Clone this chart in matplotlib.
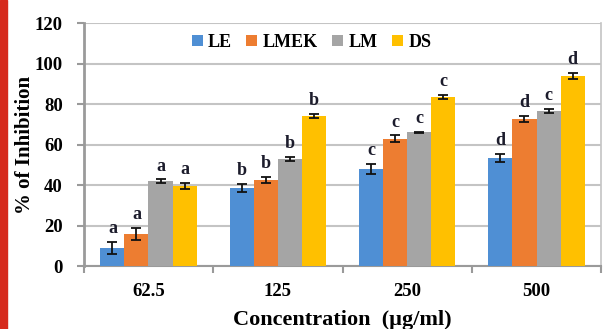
import numpy as np
import matplotlib
matplotlib.use("Agg")
import matplotlib.pyplot as plt
from matplotlib.patches import Rectangle

plt.rcParams["font.family"] = ["Liberation Serif", "DejaVu Serif"]
plt.rcParams["font.weight"] = "bold"

concentrations = ["62.5", "125", "250", "500"]
series = ["LE", "LMEK", "LM", "DS"]
colors = ["#4f8fd4", "#ed7d31", "#a5a5a5", "#ffc000"]

le = [9, 38.5, 48, 53.5]
lmek = [16, 42.5, 63, 72.7]
lm = [42, 53, 66, 76.8]
ds = [39.5, 74, 83.5, 94]

le_err = [3, 2, 2.5, 2]
lmek_err = [3, 1.5, 1.5, 1.5]
lm_err = [0.8, 1, 0.4, 1]
ds_err = [1.5, 1, 1, 1.5]

le_sig = ["a", "b", "c", "d"]
lmek_sig = ["a", "b", "c", "d"]
lm_sig = ["a", "b", "c", "c"]
ds_sig = ["a", "b", "c", "d"]

values = [le, lmek, lm, ds]
errors = [le_err, lmek_err, lm_err, ds_err]
letters = [le_sig, lmek_sig, lm_sig, ds_sig]

fig = plt.figure(figsize=(6.03, 3.29), dpi=100)
# red strip on the left edge
fig.patches.append(Rectangle((0, 0), 0.011, 1, transform=fig.transFigure,
                             color="#d62a1c", zorder=0))
ax = fig.add_axes([0.139, 0.191, 0.858, 0.739])

x = np.arange(len(concentrations))
w = 0.186
for i, name in enumerate(series):
    pos = x + (i - 1.5) * w
    ax.bar(pos, values[i], w, color=colors[i], label=name, zorder=3)
    ax.errorbar(pos, values[i], yerr=errors[i], fmt="none", ecolor="#111111",
                elinewidth=1.3, capsize=3.5, capthick=1.3, zorder=4)
    for p, v, e, t in zip(pos, values[i], errors[i], letters[i]):
        ax.annotate(t, (p, v + e), xytext=(0, 3.5), textcoords="offset points",
                    ha="center", va="bottom", fontsize=13, fontweight="bold",
                    color="#1c1c2c")

ax.set_xlim(-0.5, 3.5)
ax.set_ylim(0, 120)
ax.set_yticks(range(0, 121, 20))
ax.set_xticks(x)
ax.set_xticklabels(concentrations, fontsize=13.5, fontweight="bold")
ax.set_xticks(np.arange(-0.5, 4, 1), minor=True)
ax.tick_params(axis="x", which="major", length=0, pad=12)
ax.tick_params(axis="x", which="minor", length=5, width=1.5, color="#9a9a9a")
ax.tick_params(axis="y", length=5, width=1.5, color="#9a9a9a", labelsize=13.5, pad=10)
for lab in ax.get_yticklabels():
    lab.set_fontweight("bold")

ax.grid(axis="y", color="#c4c4c4", lw=1.5, zorder=0)
ax.set_axisbelow(True)
ax.spines["top"].set_visible(False)
ax.spines["left"].set_color("#9a9a9a")
ax.spines["left"].set_linewidth(2)
ax.spines["bottom"].set_color("#9a9a9a")
ax.spines["bottom"].set_linewidth(1.5)
ax.spines["right"].set_color("#c4c4c4")
ax.spines["right"].set_linewidth(1.2)

ax.set_xlabel("Concentration  (\u00b5g/ml)", fontsize=16, fontweight="bold", labelpad=7)
ax.set_ylabel("% of Inhibition", fontsize=15, fontweight="bold", labelpad=0)

ax.legend(loc="upper center", bbox_to_anchor=(0.44, 1.0), ncol=4, frameon=False,
          handlelength=0.6, handleheight=0.6, handletextpad=0.3,
          columnspacing=0.8, borderaxespad=0.2,
          prop={"weight": "bold", "size": 13})

fig.savefig("out.png", dpi=100)
